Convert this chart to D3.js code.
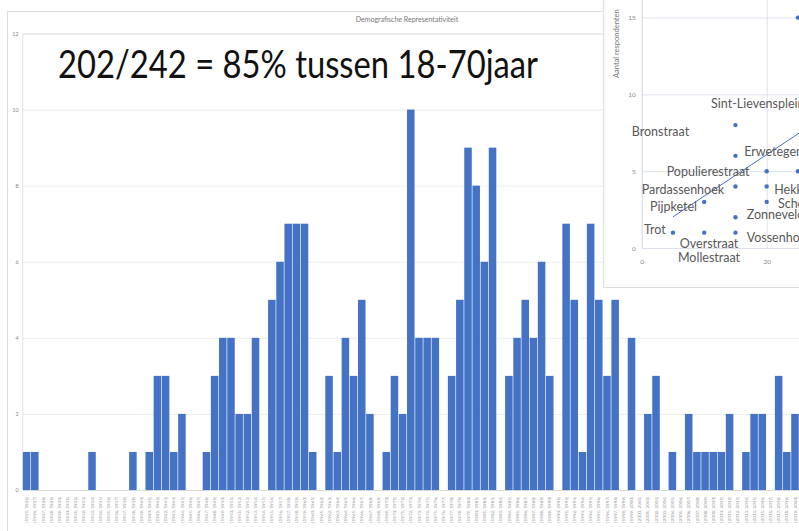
<!DOCTYPE html>
<html>
<head>
<meta charset="utf-8">
<script src="https://cdn.jsdelivr.net/npm/d3@7/dist/d3.min.js"></script>
<style>
  html, body { margin: 0; padding: 0; background: #fff; }
  svg { display: block; }
</style>
</head>
<body>
<svg id="chart" width="799" height="531"></svg>
<script>
// ---------------- DATA ----------------
const startYear = 1925;
const binCount = 95;
// counts per bin (index = bin number); bins with no respondents are 0
const counts = [
  1,1,0,0,0,0,0,0,1,0, 0,0,0,1,0,1,3,3,1,2,
  0,0,1,3,4,4,2,2,4,0, 5,6,7,7,7,1,0,3,1,4,
  3,5,2,0,1,3,2,10,4,4, 4,0,3,5,9,8,6,9,0,3,
  4,5,4,6,3,0,7,5,1,7, 5,3,5,0,4,0,2,3,0,1,
  0,2,1,1,1,1,2,0,1,2, 2,0,3,1,2
];
const categories = d3.range(binCount).map(i => {
  const a = startYear + i, b = a + 1;
  return (i === 0 ? "[" : "(") + a + ", " + b + "]";
});
const yTicks = [0, 2, 4, 6, 8, 10, 12];
const chartTitle = "Demografische Representativiteit";
const headline = "202/242 = 85% tussen 18-70jaar";

// inset scatter (street vs respondents)
const scatterX = [15, 15, 20, 25, 15, 20, 10, 20, 15, 5, 10, 15, 25];
const scatterY = [8, 6, 5, 5, 4, 4, 3, 3, 2, 1, 1, 1, 15];
const streetNames = ["Sint-Lievensplein", "Bronstraat", "Erwetegem", "Populierestraat",
  "Pardassenhoek", "Hekkestraat", "Pijpketel", "Schoolstraat", "Zonneveldestraat",
  "Trot", "Vossenhoek", "Overstraat", "Mollestraat"];
const trendIntercept = 0.68, trendSlope = 0.27;
const insetYTicks = [0, 5, 10, 15, 20];
const insetXTicks = [0, 20, 40];
const insetYTitle = "Aantal respondenten";

// ---------------- DRAW ----------------
const svg = d3.select("#chart");
const blue = "#4472C4";
const font = "Lato, 'Open Sans', sans-serif";

// outer chart frame
svg.append("rect").attr("x", 7.5).attr("y", 11.5).attr("width", 900).attr("height", 600)
  .attr("fill", "#fff").attr("stroke", "#dcdcdc");

svg.append("text").attr("x", 407).attr("y", 22).attr("text-anchor", "middle")
  .attr("font-family", font).attr("font-size", 7).attr("fill", "#777").text(chartTitle);

const x = d3.scaleBand().domain(categories).range([22.7, 798.9]).paddingInner(0.08).paddingOuter(0.02);
const y = d3.scaleLinear().domain([0, 12]).range([490, 33.5]);

// gridlines + y labels
const gy = svg.append("g").attr("transform", "translate(22.7,0)")
  .call(d3.axisLeft(y).tickValues(yTicks).tickSize(-900).tickFormat(d3.format("d")));
gy.select(".domain").remove();
gy.selectAll(".tick line").attr("stroke", d => d === 12 ? "#dadada" : "#eeeeee");
gy.selectAll(".tick text").attr("x", -4).attr("fill", "#888").attr("font-size", 5.5).attr("font-family", font);

// y axis line
svg.append("line").attr("x1", 22.7).attr("x2", 22.7).attr("y1", 33.5).attr("y2", 490)
  .attr("stroke", "#e2e2e2");

// bars
svg.append("g").selectAll("rect").data(counts).join("rect")
  .attr("x", (d, i) => x(categories[i]))
  .attr("width", x.bandwidth())
  .attr("y", d => y(d))
  .attr("height", d => y(0) - y(d))
  .attr("fill", blue);

// x axis
const gx = svg.append("g").attr("transform", "translate(0,490)")
  .call(d3.axisBottom(x).tickSize(0));
gx.select(".domain").attr("stroke", "#d9d9d9");
gx.selectAll(".tick text")
  .attr("transform", "rotate(-90)")
  .attr("x", -6.5).attr("y", 0).attr("dy", "0.35em")
  .attr("text-anchor", "end")
  .attr("font-size", 4.6).attr("font-family", font).attr("fill", "#999");

// headline
svg.append("text").attr("x", 58).attr("y", 78)
  .attr("font-family", font).attr("font-size", 39).attr("fill", "#111")
  .attr("textLength", 480).attr("lengthAdjust", "spacingAndGlyphs")
  .text(headline);

// ---------------- INSET ----------------
const inset = svg.append("g");
inset.append("rect").attr("x", 603.5).attr("y", -5).attr("width", 210).attr("height", 292.5)
  .attr("fill", "#fafafa").attr("stroke", "#dedede");
inset.append("rect").attr("x", 606).attr("y", -5).attr("width", 210).attr("height", 289)
  .attr("fill", "#fff");

const ix = d3.scaleLinear().domain([0, 40]).range([641.7, 891.7]);
const iy = d3.scaleLinear().domain([0, 15]).range([248, 17.6]);

const igy = inset.append("g").attr("transform", "translate(641.7,0)")
  .call(d3.axisLeft(iy).tickValues(insetYTicks).tickSize(-300).tickFormat(d3.format("d")));
igy.select(".domain").remove();
igy.selectAll(".tick line").attr("stroke", "#dde2ec");
igy.selectAll(".tick text").attr("x", -6).attr("fill", "#888").attr("font-size", 6.5).attr("font-family", font);

const igx = inset.append("g").attr("transform", "translate(0,248)")
  .call(d3.axisBottom(ix).tickValues(insetXTicks).tickSize(-300).tickFormat(d3.format("d")));
igx.select(".domain").remove();
igx.selectAll(".tick line").attr("stroke", d => d === 0 ? "#d0d6e2" : "#dde2ec");
igx.selectAll(".tick text").attr("y", 11).attr("fill", "#888").attr("font-size", 6.5).attr("font-family", font);

inset.append("text")
  .attr("transform", "translate(619,78) rotate(-90)")
  .attr("font-family", font).attr("font-size", 7.5).attr("fill", "#777")
  .text(insetYTitle);

// trendline
inset.append("line")
  .attr("x1", ix(5)).attr("y1", iy(trendIntercept + trendSlope * 5))
  .attr("x2", ix(27)).attr("y2", iy(trendIntercept + trendSlope * 27))
  .attr("stroke", blue).attr("stroke-width", 1);

// points
inset.append("g").selectAll("circle").data(scatterX).join("circle")
  .attr("cx", d => ix(d)).attr("cy", (d, i) => iy(scatterY[i])).attr("r", 2.2)
  .attr("fill", blue);

// street labels (anchor positions in inset data units, as placed in the original)
const labelAnchor = [
  [11.1, 9.4], [-1.6, 7.6], [16.4, 6.25], [4.0, 4.95], [0.0, 3.83], [21.2, 3.83],
  [1.33, 2.68], [21.8, 2.9], [16.8, 2.2], [0.37, 1.17], [16.8, 0.69], [6.1, 0.3], [5.8, -0.63]
];
inset.append("g").selectAll("text").data(streetNames).join("text")
  .attr("x", (d, i) => ix(labelAnchor[i][0]))
  .attr("y", (d, i) => iy(labelAnchor[i][1]))
  .attr("dy", "0.35em")
  .attr("font-family", font).attr("font-size", 12.5).attr("fill", "#595959")
  .text(d => d);
</script>
</body>
</html>
